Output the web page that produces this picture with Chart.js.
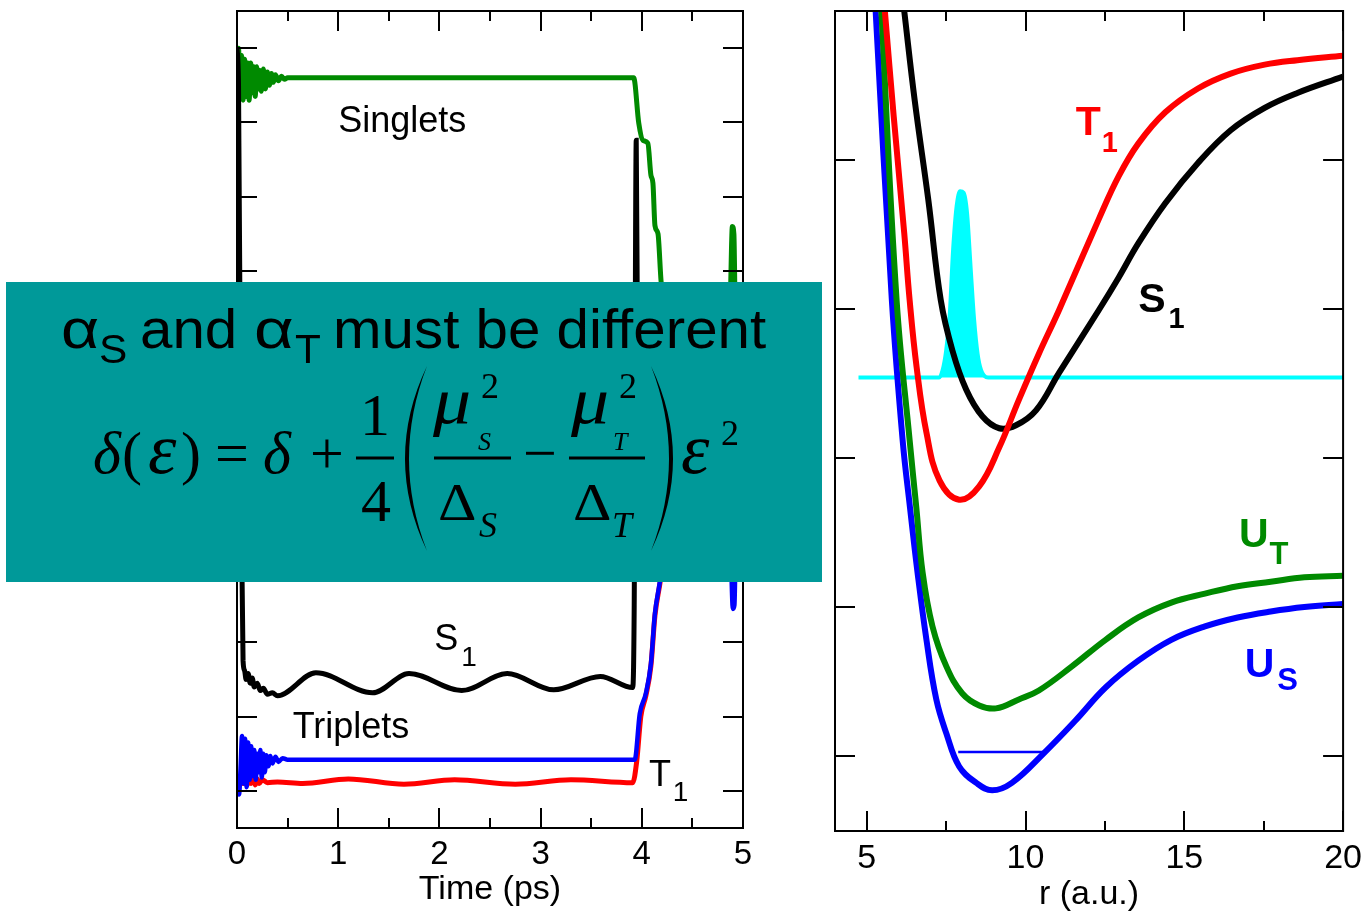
<!DOCTYPE html>
<html>
<head>
<meta charset="utf-8">
<script src="https://cdn.jsdelivr.net/npm/chart.js@4.4.1/dist/chart.umd.min.js"></script>
<style>
  html, body { margin: 0; padding: 0; background: #fff; }
  #wrap { position: relative; width: 1369px; height: 912px; overflow: hidden; }
  #leftBox { position: absolute; left: 0; top: 0; width: 830px; height: 912px; }
  #rightBox { position: absolute; left: 830px; top: 0; width: 539px; height: 912px; }
</style>
</head>
<body>
<div id="wrap">
  <div id="rightBox"><canvas id="rightChart"></canvas></div>
  <div id="leftBox"><canvas id="leftChart"></canvas></div>
</div>
<script>
const SANS = "'Liberation Sans', Arial, sans-serif";
const SERIF = "'Liberation Serif', 'Times New Roman', serif";
Chart.defaults.font.family = SANS;
Chart.defaults.color = "#000";

// --- Left panel: populations vs time (ps) ---
const timeTicks = [0, 1, 2, 3, 4, 5];
const timeMinorTicks = [0.5, 1.5, 2.5, 3.5, 4.5];
const popTicks = [0, 1, 2, 3, 4, 5, 6, 7, 8, 9, 10];

// Singlets (green)
const singletT = [0, 0.015, 0.03, 0.045, 0.06, 0.075, 0.09, 0.105, 0.12, 0.135,
  0.15, 0.165, 0.18, 0.195, 0.21, 0.225, 0.24, 0.26, 0.28, 0.30,
  0.32, 0.34, 0.36, 0.38, 0.41, 0.44, 0.47, 0.5, 1.5, 2.5,
  3.5, 3.92, 3.97, 4.01, 4.06, 4.09, 4.11, 4.13, 4.16, 4.19,
  4.3, 4.6, 4.85, 4.875, 4.895, 4.91, 4.925, 4.95];
const singletV = [9.95, 10.0, 9.35, 9.9, 9.3, 9.85, 9.35, 9.8, 9.3, 9.8,
  9.4, 9.75, 9.35, 9.75, 9.45, 9.7, 9.42, 9.72, 9.45, 9.68,
  9.5, 9.66, 9.54, 9.64, 9.56, 9.62, 9.58, 9.6, 9.6, 9.6,
  9.6, 9.6, 8.99, 8.76, 8.72, 8.29, 8.18, 7.61, 7.5, 6.87,
  5.6, 5.2, 5.3, 6.6, 7.6, 7.5, 6.2, 5.2];

// S1 (black)
const s1T = [0, 0.015, 0.04, 0.06, 0.075, 0.09, 0.11, 0.13, 0.15, 0.17,
  0.2, 0.23, 0.26, 0.3, 0.35, 0.4, 0.78, 1.34, 1.7, 2.22,
  2.67, 3.13, 3.59, 3.91, 3.925, 3.945, 3.96, 4.0];
const s1V = [10.0, 9.5, 4.0, 1.75, 1.62, 1.5, 1.58, 1.45, 1.52, 1.4,
  1.45, 1.35, 1.38, 1.3, 1.32, 1.28, 1.59, 1.32, 1.58, 1.35,
  1.58, 1.36, 1.54, 1.39, 2.5, 8.76, 5.5, 4.5];

// Triplets (blue)
const tripT = [0, 0.02, 0.035, 0.05, 0.065, 0.08, 0.095, 0.11, 0.125, 0.14,
  0.155, 0.17, 0.185, 0.2, 0.215, 0.23, 0.245, 0.26, 0.275, 0.29,
  0.31, 0.33, 0.35, 0.38, 0.41, 0.45, 0.5, 3.93, 3.98, 4.04,
  4.09, 4.13, 4.18, 4.3, 4.6, 4.87, 4.9, 4.915, 4.93, 4.95];
const tripV = [0.0, -0.05, 0.3, 0.74, 0.1, 0.7, 0.05, 0.65, 0.15, 0.6,
  0.2, 0.55, 0.15, 0.5, 0.25, 0.55, 0.18, 0.5, 0.25, 0.48,
  0.33, 0.47, 0.37, 0.46, 0.39, 0.44, 0.42, 0.42, 1.04, 1.31,
  1.71, 2.39, 2.83, 4.2, 4.4, 3.6, 2.45, 2.5, 3.5, 4.4];

// T1 (red)
const t1T = [0, 0.02, 0.04, 0.06, 0.08, 0.1, 0.12, 0.14, 0.16, 0.18,
  0.2, 0.22, 0.25, 0.3, 0.4, 0.65, 1.1, 1.65, 2.15, 2.75,
  3.3, 3.91, 3.95, 3.99, 4.04, 4.09, 4.13, 4.18, 4.3, 4.9];
const t1V = [0.0, 0.05, 0.2, 0.1, 0.22, 0.08, 0.2, 0.1, 0.18, 0.08,
  0.16, 0.1, 0.15, 0.11, 0.12, 0.1, 0.16, 0.09, 0.15, 0.09,
  0.15, 0.11, 0.4, 1.0, 1.28, 1.68, 2.36, 2.8, 4.0, 4.2];

// --- Right panel: potential curves vs r (a.u.) ---
const rTicks = [5, 10, 15, 20];
const rMinorTicks = [7.5, 12.5, 17.5];
const energyTicks = [0, 1, 2, 3, 4];

const usR = [5.28, 5.79, 6.13, 6.36, 6.60, 6.88, 7.19, 7.51, 7.91, 8.45, 8.95,
  9.57, 10.58, 11.58, 12.52, 13.55, 14.59, 15.65, 16.68, 17.72, 18.78, 20.0];
const usV = [5.0, 3.06, 2.12, 1.67, 1.23, 0.78, 0.38, 0.15, -0.07, -0.18, -0.23,
  -0.18, 0.02, 0.24, 0.46, 0.64, 0.78, 0.87, 0.93, 0.97, 1.00, 1.02];

const utR = [5.46, 5.94, 6.35, 6.56, 6.76, 7.07, 7.51, 8.01, 8.54, 9.07, 9.79,
  10.42, 11.45, 12.52, 13.55, 14.59, 15.65, 16.68, 17.72, 18.78, 20.0];
const utV = [5.0, 3.06, 2.12, 1.67, 1.23, 0.87, 0.60, 0.42, 0.34, 0.32, 0.38,
  0.44, 0.60, 0.78, 0.93, 1.03, 1.09, 1.14, 1.17, 1.20, 1.21];

const t1R = [5.57, 5.85, 6.18, 6.35, 6.57, 6.88, 7.29, 7.91, 8.54, 9.17, 9.79,
  10.42, 11.05, 12.30, 12.93, 13.55, 14.40, 15.43, 16.46, 17.53, 18.56, 20.0];
const t1RV = [5.0, 4.29, 3.51, 3.06, 2.61, 2.17, 1.85, 1.72, 1.81, 2.07, 2.39,
  2.70, 2.99, 3.60, 3.89, 4.11, 4.32, 4.48, 4.58, 4.64, 4.67, 4.70];

const s1R = [6.18, 6.51, 6.94, 7.33, 7.70, 8.13, 8.64, 9.17, 9.70, 10.33,
  11.05, 12.30, 12.93, 13.55, 14.40, 15.43, 16.46, 17.53, 18.56, 20.0];
const s1RV = [5.0, 4.40, 3.73, 3.06, 2.72, 2.46, 2.28, 2.20, 2.22, 2.32,
  2.57, 2.99, 3.21, 3.44, 3.71, 3.98, 4.20, 4.35, 4.45, 4.56];

const levelR = [7.88, 10.64];
const levelV = [0.027, 0.027];

const wpR = [4.74, 7.28, 7.39, 7.50, 7.61, 7.72, 7.83, 7.94, 8.05, 8.16, 8.27, 8.38, 8.49, 8.60, 8.82, 20.0];
const wpV = [2.54, 2.54, 2.59, 2.72, 2.95, 3.40, 3.69, 3.79, 3.78, 3.64, 3.28, 2.93, 2.70, 2.59, 2.54, 2.54];
const wpBase = 2.54;

const zip = (xs, ys) => xs.map((x, i) => ({ x: x, y: ys[i] }));

function line(label, xs, ys, color, width, order, extra) {
  return Object.assign({
    label: label,
    data: zip(xs, ys),
    borderColor: color,
    backgroundColor: color,
    borderWidth: width,
    pointRadius: 0,
    cubicInterpolationMode: "monotone",
    fill: false,
    order: order
  }, extra || {});
}
const smooth = { cubicInterpolationMode: "default", tension: 0.4 };

// inward tick marks + frame, drawn with the chart's own scales
const frameTicks = {
  id: "frameTicks",
  afterDatasetsDraw(chart, args, o) {
    const { ctx, chartArea: a, scales: { x, y } } = chart;
    ctx.save();
    ctx.strokeStyle = "#000";
    ctx.lineWidth = 2;
    ctx.beginPath();
    const xt = (v, len) => {
      const px = Math.round(x.getPixelForValue(v));
      ctx.moveTo(px, a.bottom); ctx.lineTo(px, a.bottom - len);
      ctx.moveTo(px, a.top); ctx.lineTo(px, a.top + len);
    };
    o.xMajor.forEach(v => xt(v, o.majorLen));
    o.xMinor.forEach(v => xt(v, o.minorLen));
    o.yMajor.forEach(v => {
      const py = Math.round(y.getPixelForValue(v));
      ctx.moveTo(a.left, py); ctx.lineTo(a.left + o.majorLen, py);
      ctx.moveTo(a.right, py); ctx.lineTo(a.right - o.majorLen, py);
    });
    ctx.stroke();
    ctx.strokeRect(a.left, a.top, a.width, a.height);
    ctx.restore();
  }
};

// curve names with subscripts
const curveLabels = {
  id: "curveLabels",
  afterDatasetsDraw(chart, args, o) {
    const { ctx, scales: { x, y } } = chart;
    ctx.save();
    ctx.textBaseline = "alphabetic";
    ctx.textAlign = "left";
    o.items.forEach(it => {
      const px = x.getPixelForValue(it.x), py = y.getPixelForValue(it.y);
      ctx.fillStyle = it.color;
      ctx.font = `${it.weight} ${it.size}px ${SANS}`;
      ctx.fillText(it.text, px, py);
      if (it.sub) {
        const w = ctx.measureText(it.text).width;
        ctx.font = `${it.weight} ${it.subSize}px ${SANS}`;
        ctx.fillText(it.sub, px + w + it.dx, py + it.dy);
      }
    });
    ctx.restore();
  }
};

// teal box with the formula, laid over the left panel
const overlayBox = {
  id: "overlayBox",
  afterDraw(chart, args, o) {
    const ctx = chart.ctx;
    ctx.save();
    ctx.fillStyle = o.color;
    ctx.fillRect(o.left, o.top, o.width, o.height);
    ctx.fillStyle = "#000";
    ctx.textBaseline = "alphabetic";
    ctx.textAlign = "left";
    o.glyphs.forEach(g => {
      ctx.save();
      ctx.font = g.font;
      ctx.translate(g.x, g.y);
      ctx.scale(g.sx || 1, 1);
      ctx.fillText(g.t, 0, 0);
      ctx.restore();
    });
    o.bars.forEach(b => ctx.fillRect(b[0], b[2] - 1.5, b[1] - b[0], 3));
    // tall brackets: thin crescents
    o.brackets.forEach(p => {
      ctx.beginPath();
      ctx.moveTo(p.x, p.top);
      ctx.quadraticCurveTo(p.x + p.bow, (p.top + p.bottom) / 2, p.x, p.bottom);
      ctx.quadraticCurveTo(p.x + p.bow + p.thick, (p.top + p.bottom) / 2, p.x, p.top);
      ctx.fill();
    });
    ctx.restore();
  }
};

const it60 = `italic 60px ${SERIF}`;
const up60 = `60px ${SERIF}`;
const boxGlyphs = [
  { t: "α", x: 61, y: 348, font: `55px ${SANS}`, sx: 1.2 },
  { t: "S", x: 99, y: 363, font: `40px ${SANS}`, sx: 1.06 },
  { t: "and", x: 140, y: 348, font: `55px ${SANS}`, sx: 1.06 },
  { t: "α", x: 254, y: 348, font: `55px ${SANS}`, sx: 1.25 },
  { t: "T", x: 295, y: 363, font: `40px ${SANS}`, sx: 1.06 },
  { t: "must be different", x: 333, y: 348, font: `55px ${SANS}`, sx: 1.06 },
  { t: "δ", x: 93, y: 473, font: it60 },
  { t: "(", x: 122, y: 473, font: up60 },
  { t: "ε", x: 148, y: 473, font: `italic 72px ${SERIF}` },
  { t: ")", x: 181, y: 473, font: up60 },
  { t: "=", x: 215, y: 473, font: up60 },
  { t: "δ", x: 263, y: 473, font: it60 },
  { t: "+", x: 310, y: 473, font: up60 },
  { t: "1", x: 360, y: 435, font: up60 },
  { t: "4", x: 361, y: 521, font: up60 },
  { t: "μ", x: 433, y: 423, font: `italic 66px ${SERIF}`, sx: 1.15 },
  { t: "2", x: 481, y: 398, font: `36px ${SERIF}` },
  { t: "S", x: 478, y: 450, font: `italic 26px ${SERIF}` },
  { t: "Δ", x: 438, y: 520, font: `52px ${SERIF}`, sx: 1.15 },
  { t: "S", x: 479, y: 537, font: `italic 36px ${SERIF}` },
  { t: "−", x: 523, y: 473, font: up60 },
  { t: "μ", x: 571, y: 423, font: `italic 66px ${SERIF}`, sx: 1.15 },
  { t: "2", x: 619, y: 398, font: `36px ${SERIF}` },
  { t: "T", x: 613, y: 450, font: `italic 26px ${SERIF}` },
  { t: "Δ", x: 573, y: 520, font: `52px ${SERIF}`, sx: 1.15 },
  { t: "T", x: 612, y: 537, font: `italic 36px ${SERIF}` },
  { t: "ε", x: 681, y: 473, font: `italic 72px ${SERIF}` },
  { t: "2", x: 721, y: 445, font: `36px ${SERIF}` }
];
const boxBars = [[356, 394, 458], [434, 511, 458], [569, 645, 458]];
const boxBrackets = [
  { x: 427, top: 366, bottom: 551, bow: -44, thick: 8 },
  { x: 651, top: 366, bottom: 551, bow: 44, thick: -8 }
];

function xAxis(min, max, ticks, tickSize, title, titleBottom, fitHeight) {
  return {
    type: "linear", min: min, max: max,
    afterBuildTicks: s => { s.ticks = ticks.map(v => ({ value: v })); },
    afterFit: s => { s.height = fitHeight; },
    grid: { display: false, drawTicks: false },
    border: { display: false },
    ticks: { font: { size: tickSize }, color: "#000", padding: 7, maxRotation: 0, autoSkip: false },
    title: { display: true, text: title, color: "#000", font: { size: 34, lineHeight: 1 }, padding: { top: 0, bottom: titleBottom } }
  };
}

new Chart(document.getElementById("leftChart"), {
  type: "line",
  data: {
    datasets: [
      line("Triplets", tripT, tripV, "#0000ff", 4.5, 0),
      line("S1", s1T, s1V, "#000000", 5, 1),
      line("Singlets", singletT, singletV, "#008a00", 5, 2),
      line("T1", t1T, t1V, "#ff0000", 5, 3)
    ]
  },
  options: {
    responsive: true,
    maintainAspectRatio: false,
    animation: false,
    layout: { padding: { left: 237, right: 87, top: 11, bottom: 0 } },
    scales: {
      x: xAxis(0, 5, timeTicks, 33, "Time (ps)", 5, 84),
      y: { type: "linear", min: -0.5, max: 10.5, display: false }
    },
    plugins: {
      legend: { display: false },
      tooltip: { enabled: false },
      frameTicks: { xMajor: timeTicks, xMinor: timeMinorTicks, yMajor: popTicks, majorLen: 20, minorLen: 10 },
      curveLabels: {
        items: [
          { text: "Singlets", x: 1.0, y: 8.87, color: "#000", size: 36, weight: "normal" },
          { text: "S", sub: "1", x: 1.95, y: 1.9, color: "#000", size: 36, subSize: 28, weight: "normal", dx: 3, dy: 16 },
          { text: "Triplets", x: 0.55, y: 0.714, color: "#000", size: 36, weight: "normal" },
          { text: "T", sub: "1", x: 4.07, y: 0.07, color: "#000", size: 36, subSize: 28, weight: "normal", dx: 2, dy: 15 }
        ]
      },
      overlayBox: { color: "#009999", left: 6, top: 282, width: 816, height: 300, glyphs: boxGlyphs, bars: boxBars, brackets: boxBrackets }
    }
  },
  plugins: [frameTicks, curveLabels, overlayBox]
});

new Chart(document.getElementById("rightChart"), {
  type: "line",
  data: {
    datasets: [
      line("T1", t1R, t1RV, "#ff0000", 6, 0, smooth),
      line("S1", s1R, s1RV, "#000000", 6, 1, smooth),
      line("UT", utR, utV, "#008a00", 6, 2, smooth),
      line("US", usR, usV, "#0000ff", 6, 3, smooth),
      line("level", levelR, levelV, "#0000ff", 2.5, 4, { cubicInterpolationMode: "default", tension: 0 }),
      line("packet", wpR, wpV, "#00ffff", 4, 5, { fill: { value: wpBase } })
    ]
  },
  options: {
    responsive: true,
    maintainAspectRatio: false,
    animation: false,
    layout: { padding: { left: 5, right: 24, top: 11, bottom: 0 } },
    scales: {
      x: xAxis(4, 20, rTicks, 34, "r (a.u.)", 0, 81),
      y: { type: "linear", min: -0.503, max: 5.0, display: false }
    },
    plugins: {
      legend: { display: false },
      tooltip: { enabled: false },
      frameTicks: { xMajor: rTicks, xMinor: rMinorTicks, yMajor: energyTicks, majorLen: 20, minorLen: 10 },
      curveLabels: {
        items: [
          { text: "T", sub: "1", x: 11.58, y: 4.17, color: "#ff0000", size: 41, subSize: 29, weight: "bold", dx: 1, dy: 17 },
          { text: "S", sub: "1", x: 13.55, y: 2.98, color: "#000000", size: 41, subSize: 29, weight: "bold", dx: 3, dy: 16 },
          { text: "U", sub: "T", x: 16.72, y: 1.40, color: "#008a00", size: 41, subSize: 31, weight: "bold", dx: 1, dy: 17 },
          { text: "U", sub: "S", x: 16.9, y: 0.53, color: "#0000ff", size: 41, subSize: 31, weight: "bold", dx: 3, dy: 13 }
        ]
      }
    }
  },
  plugins: [frameTicks, curveLabels]
});
</script>
</body>
</html>
